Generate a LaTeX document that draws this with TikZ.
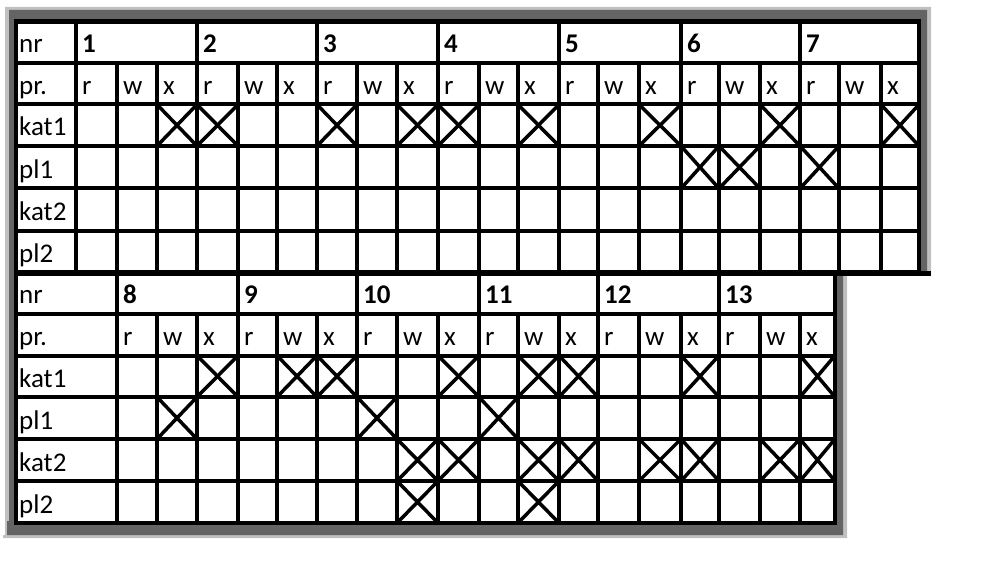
\documentclass[tikz,border=0pt]{standalone}
\usepackage{fontspec}
\setmainfont{Carlito}
\definecolor{framedark}{RGB}{100,100,100}
\definecolor{framelight}{RGB}{192,192,192}
\tikzset{
  gridline/.style={line width=4bp},
  crossmark/.style={line width=3.5bp},
  lab/.style={anchor=base west,inner sep=0pt,font=\fontsize{27bp}{31bp}\selectfont},
  num/.style={lab,font=\fontsize{27bp}{31bp}\selectfont\bfseries},
}
% column and row lines, in pixels of the scan
\def\topx{{76,117,157,197,238,277,317,357,397,438,479,518,559,598,639,681,719,760,800,839,881,919}}
\def\topy{{21.5,63,104.5,146,188.5,231,272.5}}
\def\botx{{117,157,197,238,277,317,357,397,438,479,518,559,598,639,681,719,760,800,835}}
\def\boty{{272.5,313.5,355.5,397,439,481,523}}
\begin{document}
\begin{tikzpicture}[x=1bp,y=-1bp]
    \useasboundingbox (0,0) rectangle (982,584);
    % frame
    \fill[framelight] (5,7)--(931,7)--(931,274)--(847,274)--(847,538)--(3,538)--(3,535)--(5,535)--cycle;
    \fill[framedark] (9,10)--(927,10)--(927,274)--(843,274)--(843,535)--(7,535)--(7,521)--(9,521)--cycle;
    \fill[white] (16,21.5) rectangle (919,272.5) (16,272.5) rectangle (835,523);
    % upper table
    \foreach \r in {1,...,5}{
        \pgfmathsetmacro\yy{\topy[\r]}
        \draw[gridline] (16,\yy)--(919,\yy);
    }
    \draw[gridline] (76,21.5)--(76,272.5);
    \foreach \k in {1,...,20}{
        \pgfmathsetmacro\xx{\topx[\k]}
        \pgfmathtruncatemacro\m{mod(\k,3)}
        \ifnum\m=0 \draw[gridline] (\xx,21.5)--(\xx,272.5);
        \else \draw[gridline] (\xx,63)--(\xx,272.5); \fi
    }
    \draw[line width=4.5bp] (16,21.5) rectangle (919,272.5);
    % lower table
    \foreach \r in {1,...,5}{
        \pgfmathsetmacro\yy{\boty[\r]}
        \draw[gridline] (16,\yy)--(835,\yy);
    }
    \foreach \k in {0,...,17}{
        \pgfmathsetmacro\xx{\botx[\k]}
        \pgfmathtruncatemacro\m{mod(\k,3)}
        \ifnum\m=0 \draw[gridline] (\xx,272.5)--(\xx,523);
        \else \draw[gridline] (\xx,313.5)--(\xx,523); \fi
    }
    \draw[line width=4.5bp] (16,272.5) rectangle (835,523);
    \draw[line width=5bp] (16,273.5)--(931,273.5);
    % crosses
    \foreach \k/\r in {2/2,3/2,6/2,8/2,9/2,11/2,14/2,17/2,20/2,15/3,16/3,18/3}{
        \pgfmathsetmacro\xa{\topx[\k]}\pgfmathsetmacro\xb{\topx[\k+1]}
        \pgfmathsetmacro\ya{\topy[\r]}\pgfmathsetmacro\yb{\topy[\r+1]}
        \draw[crossmark] (\xa,\ya)--(\xb,\yb) (\xa,\yb)--(\xb,\ya);
    }
    \foreach \k/\r in {2/2,4/2,5/2,8/2,10/2,11/2,14/2,17/2,1/3,6/3,9/3,
                       7/4,8/4,10/4,11/4,13/4,14/4,16/4,17/4,7/5,10/5}{
        \pgfmathsetmacro\xa{\botx[\k]}\pgfmathsetmacro\xb{\botx[\k+1]}
        \pgfmathsetmacro\ya{\boty[\r]}\pgfmathsetmacro\yb{\boty[\r+1]}
        \draw[crossmark] (\xa,\ya)--(\xb,\yb) (\xa,\yb)--(\xb,\ya);
    }
    % labels
    \foreach \t [count=\i] in {nr,pr.,kat1,pl1,kat2,pl2}{
        \pgfmathsetmacro\yy{\topy[\i]-10}
        \node[lab] (rowA\i) at (19,\yy) {\t};
        \pgfmathsetmacro\yy{\boty[\i]-10}
        \node[lab] (rowB\i) at (19,\yy) {\t};
    }
    \foreach \g in {1,...,7}{
        \pgfmathsetmacro\xx{\topx[3*\g-3]+6}
        \node[num] (num\g) at (\xx,53) {\g};
    }
    \foreach \g in {8,...,13}{
        \pgfmathsetmacro\xx{\botx[3*\g-24]+6}
        \node[num] (num\g) at (\xx,303.5) {\g};
    }
    \foreach \g in {0,...,6}{
        \foreach \s [count=\j from 0] in {r,w,x}{
            \pgfmathsetmacro\xx{\topx[3*\g+\j]+6}
            \node[lab] (subA\g\s) at (\xx,94.5) {\s};
        }
    }
    \foreach \g in {0,...,5}{
        \foreach \s [count=\j from 0] in {r,w,x}{
            \pgfmathsetmacro\xx{\botx[3*\g+\j]+6}
            \node[lab] (subB\g\s) at (\xx,345.5) {\s};
        }
    }
\end{tikzpicture}
\end{document}
